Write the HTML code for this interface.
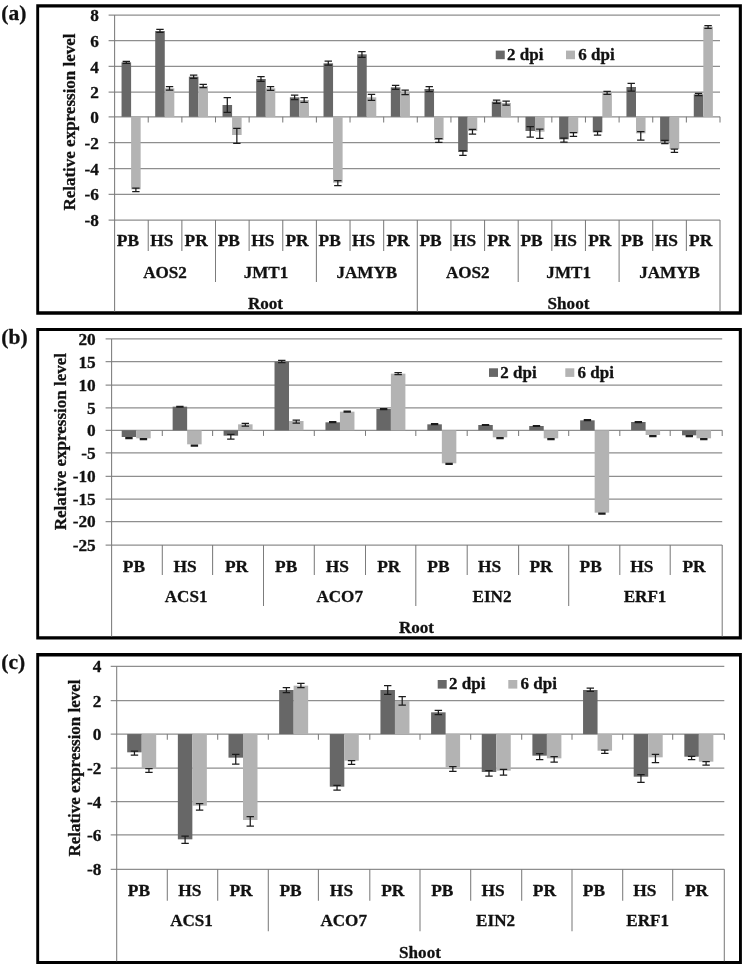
<!DOCTYPE html>
<html lang="en"><head><meta charset="utf-8"><title>Relative expression level</title>
<style>html,body{margin:0;padding:0;background:#fff}svg{display:block;filter:grayscale(1)}text{font-family:"Liberation Serif", "DejaVu Serif", serif;font-weight:700;fill:#111;stroke:#111;stroke-width:.3px;stroke-linejoin:round}</style></head><body>
<svg width="744" height="968" viewBox="0 0 744 968">
<rect width="744" height="968" fill="#fff"/>
<path fill="#000" fill-rule="evenodd" d="M36.25 4.2H741.9V314.75H36.25ZM39.15 7.4V311.25H738.8V7.4Z"/>
<text x="1.3" y="20.3" font-size="21.5">(a)</text>
<g stroke="#8e8e8e" stroke-width="1.25" fill="none">
<line x1="108.6" y1="15" x2="720" y2="15"/>
<line x1="108.6" y1="40.7" x2="720" y2="40.7"/>
<line x1="108.6" y1="66.4" x2="720" y2="66.4"/>
<line x1="108.6" y1="92.2" x2="720" y2="92.2"/>
<line x1="108.6" y1="116.8" x2="720" y2="116.8"/>
<line x1="108.6" y1="142.6" x2="720" y2="142.6"/>
<line x1="108.6" y1="168.5" x2="720" y2="168.5"/>
<line x1="108.6" y1="194.3" x2="720" y2="194.3"/>
<line x1="108.6" y1="220" x2="720" y2="220"/>
</g>
<g stroke="#7c7c7c" stroke-width="1.05" fill="none">
<line x1="114.6" y1="15" x2="114.6" y2="311.5"/>
<line x1="148.23" y1="220" x2="148.23" y2="251"/>
<line x1="148.23" y1="116.8" x2="148.23" y2="122.4"/>
<line x1="181.87" y1="220" x2="181.87" y2="251"/>
<line x1="181.87" y1="116.8" x2="181.87" y2="122.4"/>
<line x1="215.5" y1="220" x2="215.5" y2="282"/>
<line x1="215.5" y1="116.8" x2="215.5" y2="122.4"/>
<line x1="249.13" y1="220" x2="249.13" y2="251"/>
<line x1="249.13" y1="116.8" x2="249.13" y2="122.4"/>
<line x1="282.77" y1="220" x2="282.77" y2="251"/>
<line x1="282.77" y1="116.8" x2="282.77" y2="122.4"/>
<line x1="316.4" y1="220" x2="316.4" y2="282"/>
<line x1="316.4" y1="116.8" x2="316.4" y2="122.4"/>
<line x1="350.03" y1="220" x2="350.03" y2="251"/>
<line x1="350.03" y1="116.8" x2="350.03" y2="122.4"/>
<line x1="383.67" y1="220" x2="383.67" y2="251"/>
<line x1="383.67" y1="116.8" x2="383.67" y2="122.4"/>
<line x1="417.3" y1="220" x2="417.3" y2="311.5"/>
<line x1="417.3" y1="116.8" x2="417.3" y2="122.4"/>
<line x1="450.93" y1="220" x2="450.93" y2="251"/>
<line x1="450.93" y1="116.8" x2="450.93" y2="122.4"/>
<line x1="484.57" y1="220" x2="484.57" y2="251"/>
<line x1="484.57" y1="116.8" x2="484.57" y2="122.4"/>
<line x1="518.2" y1="220" x2="518.2" y2="282"/>
<line x1="518.2" y1="116.8" x2="518.2" y2="122.4"/>
<line x1="551.83" y1="220" x2="551.83" y2="251"/>
<line x1="551.83" y1="116.8" x2="551.83" y2="122.4"/>
<line x1="585.47" y1="220" x2="585.47" y2="251"/>
<line x1="585.47" y1="116.8" x2="585.47" y2="122.4"/>
<line x1="619.1" y1="220" x2="619.1" y2="282"/>
<line x1="619.1" y1="116.8" x2="619.1" y2="122.4"/>
<line x1="652.73" y1="220" x2="652.73" y2="251"/>
<line x1="652.73" y1="116.8" x2="652.73" y2="122.4"/>
<line x1="686.37" y1="220" x2="686.37" y2="251"/>
<line x1="686.37" y1="116.8" x2="686.37" y2="122.4"/>
<line x1="720" y1="220" x2="720" y2="311.5"/>
<line x1="720" y1="116.8" x2="720" y2="122.4"/>
</g>
<g font-size="17.3" text-anchor="end">
<text x="99" y="21.1">8</text>
<text x="99" y="46.8">6</text>
<text x="99" y="72.5">4</text>
<text x="99" y="98.3">2</text>
<text x="99" y="122.9">0</text>
<text x="99" y="148.7">-2</text>
<text x="99" y="174.6">-4</text>
<text x="99" y="200.4">-6</text>
<text x="99" y="226.1">-8</text>
</g>
<text transform="translate(74.5,122) rotate(-90)" text-anchor="middle" font-size="17">Relative expression level</text>
<rect x="121.55" y="62.33" width="9.55" height="54.47" fill="#676767"/>
<rect x="131.1" y="116.8" width="9.55" height="72.53" fill="#b3b3b3"/>
<path d="M126.32 61.33V63.33M122.62 61.33H130.02M122.62 63.33H130.02" stroke="#1c1c1c" stroke-width="1.25" fill="none"/>
<path d="M135.88 188V191.67M132.18 188H139.57M132.18 191.67H139.57" stroke="#1c1c1c" stroke-width="1.25" fill="none"/>
<rect x="155.21" y="31" width="9.55" height="85.8" fill="#676767"/>
<rect x="164.76" y="88.33" width="9.55" height="28.47" fill="#b3b3b3"/>
<path d="M159.98 29.33V32.33M156.28 29.33H163.68M156.28 32.33H163.68" stroke="#1c1c1c" stroke-width="1.25" fill="none"/>
<path d="M169.53 86.67V90M165.84 86.67H173.23M165.84 90H173.23" stroke="#1c1c1c" stroke-width="1.25" fill="none"/>
<rect x="188.87" y="76.67" width="9.55" height="40.13" fill="#676767"/>
<rect x="198.42" y="86" width="9.55" height="30.8" fill="#b3b3b3"/>
<path d="M193.64 75V78.33M189.94 75H197.34M189.94 78.33H197.34" stroke="#1c1c1c" stroke-width="1.25" fill="none"/>
<path d="M203.19 84.33V87.67M199.5 84.33H206.89M199.5 87.67H206.89" stroke="#1c1c1c" stroke-width="1.25" fill="none"/>
<rect x="222.53" y="105" width="9.55" height="11.8" fill="#676767"/>
<rect x="232.08" y="116.8" width="9.55" height="18.2" fill="#b3b3b3"/>
<path d="M227.3 97.67V112.33M223.6 97.67H231M223.6 112.33H231" stroke="#1c1c1c" stroke-width="1.25" fill="none"/>
<path d="M236.85 128.33V143.33M233.16 128.33H240.55M233.16 143.33H240.55" stroke="#1c1c1c" stroke-width="1.25" fill="none"/>
<rect x="256.19" y="79" width="9.55" height="37.8" fill="#676767"/>
<rect x="265.74" y="88.33" width="9.55" height="28.47" fill="#b3b3b3"/>
<path d="M260.97 76.67V81.33M257.27 76.67H264.67M257.27 81.33H264.67" stroke="#1c1c1c" stroke-width="1.25" fill="none"/>
<path d="M270.52 86.67V90.33M266.82 86.67H274.22M266.82 90.33H274.22" stroke="#1c1c1c" stroke-width="1.25" fill="none"/>
<rect x="289.85" y="97.33" width="9.55" height="19.47" fill="#676767"/>
<rect x="299.4" y="100" width="9.55" height="16.8" fill="#b3b3b3"/>
<path d="M294.62 95V99.67M290.93 95H298.32M290.93 99.67H298.32" stroke="#1c1c1c" stroke-width="1.25" fill="none"/>
<path d="M304.18 97.67V102.33M300.48 97.67H307.88M300.48 102.33H307.88" stroke="#1c1c1c" stroke-width="1.25" fill="none"/>
<rect x="323.51" y="63.33" width="9.55" height="53.47" fill="#676767"/>
<rect x="333.06" y="116.8" width="9.55" height="65.87" fill="#b3b3b3"/>
<path d="M328.28 61V65M324.58 61H331.98M324.58 65H331.98" stroke="#1c1c1c" stroke-width="1.25" fill="none"/>
<path d="M337.83 180.67V185.67M334.13 180.67H341.53M334.13 185.67H341.53" stroke="#1c1c1c" stroke-width="1.25" fill="none"/>
<rect x="357.17" y="54.33" width="9.55" height="62.47" fill="#676767"/>
<rect x="366.72" y="97.33" width="9.55" height="19.47" fill="#b3b3b3"/>
<path d="M361.94 51.67V57.33M358.25 51.67H365.64M358.25 57.33H365.64" stroke="#1c1c1c" stroke-width="1.25" fill="none"/>
<path d="M371.5 94.33V100.33M367.8 94.33H375.19M367.8 100.33H375.19" stroke="#1c1c1c" stroke-width="1.25" fill="none"/>
<rect x="390.83" y="87.33" width="9.55" height="29.47" fill="#676767"/>
<rect x="400.38" y="92.33" width="9.55" height="24.47" fill="#b3b3b3"/>
<path d="M395.61 85.33V89.33M391.91 85.33H399.31M391.91 89.33H399.31" stroke="#1c1c1c" stroke-width="1.25" fill="none"/>
<path d="M405.16 90V94.67M401.46 90H408.86M401.46 94.67H408.86" stroke="#1c1c1c" stroke-width="1.25" fill="none"/>
<rect x="424.49" y="89" width="9.55" height="27.8" fill="#676767"/>
<rect x="434.04" y="116.8" width="9.55" height="23.2" fill="#b3b3b3"/>
<path d="M429.26 86.67V91.67M425.56 86.67H432.96M425.56 91.67H432.96" stroke="#1c1c1c" stroke-width="1.25" fill="none"/>
<path d="M438.81 138.67V142.33M435.12 138.67H442.51M435.12 142.33H442.51" stroke="#1c1c1c" stroke-width="1.25" fill="none"/>
<rect x="458.15" y="116.8" width="9.55" height="35.2" fill="#676767"/>
<rect x="467.7" y="116.8" width="9.55" height="14.2" fill="#b3b3b3"/>
<path d="M462.92 150.67V155.33M459.22 150.67H466.62M459.22 155.33H466.62" stroke="#1c1c1c" stroke-width="1.25" fill="none"/>
<path d="M472.47 129.33V134M468.77 129.33H476.17M468.77 134H476.17" stroke="#1c1c1c" stroke-width="1.25" fill="none"/>
<rect x="491.81" y="101.67" width="9.55" height="15.13" fill="#676767"/>
<rect x="501.36" y="103" width="9.55" height="13.8" fill="#b3b3b3"/>
<path d="M496.59 100V103.33M492.89 100H500.29M492.89 103.33H500.29" stroke="#1c1c1c" stroke-width="1.25" fill="none"/>
<path d="M506.14 101V105M502.44 101H509.84M502.44 105H509.84" stroke="#1c1c1c" stroke-width="1.25" fill="none"/>
<rect x="525.47" y="116.8" width="9.55" height="14.2" fill="#676767"/>
<rect x="535.02" y="116.8" width="9.55" height="14.87" fill="#b3b3b3"/>
<path d="M530.25 126.67V137M526.54 126.67H533.95M526.54 137H533.95" stroke="#1c1c1c" stroke-width="1.25" fill="none"/>
<path d="M539.79 129V138.33M536.09 129H543.5M536.09 138.33H543.5" stroke="#1c1c1c" stroke-width="1.25" fill="none"/>
<rect x="559.13" y="116.8" width="9.55" height="22.53" fill="#676767"/>
<rect x="568.68" y="116.8" width="9.55" height="16.53" fill="#b3b3b3"/>
<path d="M563.9 138V142M560.2 138H567.61M560.2 142H567.61" stroke="#1c1c1c" stroke-width="1.25" fill="none"/>
<path d="M573.45 132.67V136.33M569.75 132.67H577.15M569.75 136.33H577.15" stroke="#1c1c1c" stroke-width="1.25" fill="none"/>
<rect x="592.79" y="116.8" width="9.55" height="15.53" fill="#676767"/>
<rect x="602.34" y="92.67" width="9.55" height="24.13" fill="#b3b3b3"/>
<path d="M597.56 131.33V135M593.86 131.33H601.26M593.86 135H601.26" stroke="#1c1c1c" stroke-width="1.25" fill="none"/>
<path d="M607.11 91.33V94.33M603.41 91.33H610.81M603.41 94.33H610.81" stroke="#1c1c1c" stroke-width="1.25" fill="none"/>
<rect x="626.45" y="87" width="9.55" height="29.8" fill="#676767"/>
<rect x="636" y="116.8" width="9.55" height="16.53" fill="#b3b3b3"/>
<path d="M631.23 83.33V91M627.52 83.33H634.93M627.52 91H634.93" stroke="#1c1c1c" stroke-width="1.25" fill="none"/>
<path d="M640.77 131.67V140M637.07 131.67H644.48M637.07 140H644.48" stroke="#1c1c1c" stroke-width="1.25" fill="none"/>
<rect x="660.11" y="116.8" width="9.55" height="24.87" fill="#676767"/>
<rect x="669.66" y="116.8" width="9.55" height="32.2" fill="#b3b3b3"/>
<path d="M664.88 140.33V143.67M661.18 140.33H668.59M661.18 143.67H668.59" stroke="#1c1c1c" stroke-width="1.25" fill="none"/>
<path d="M674.43 149V152.33M670.73 149H678.13M670.73 152.33H678.13" stroke="#1c1c1c" stroke-width="1.25" fill="none"/>
<rect x="693.77" y="94.33" width="9.55" height="22.47" fill="#676767"/>
<rect x="703.32" y="26.67" width="9.55" height="90.13" fill="#b3b3b3"/>
<path d="M698.54 93.33V95.67M694.84 93.33H702.25M694.84 95.67H702.25" stroke="#1c1c1c" stroke-width="1.25" fill="none"/>
<path d="M708.09 25.67V28.33M704.39 25.67H711.79M704.39 28.33H711.79" stroke="#1c1c1c" stroke-width="1.25" fill="none"/>
<g font-size="17.4" text-anchor="middle">
<text x="127.92" y="246.4">PB</text>
<text x="161.85" y="246.4">HS</text>
<text x="196.18" y="246.4">PR</text>
<text x="228.82" y="246.4">PB</text>
<text x="262.75" y="246.4">HS</text>
<text x="297.08" y="246.4">PR</text>
<text x="329.72" y="246.4">PB</text>
<text x="363.65" y="246.4">HS</text>
<text x="397.98" y="246.4">PR</text>
<text x="430.62" y="246.4">PB</text>
<text x="464.55" y="246.4">HS</text>
<text x="498.88" y="246.4">PR</text>
<text x="531.52" y="246.4">PB</text>
<text x="565.45" y="246.4">HS</text>
<text x="599.78" y="246.4">PR</text>
<text x="632.42" y="246.4">PB</text>
<text x="666.35" y="246.4">HS</text>
<text x="700.68" y="246.4">PR</text>
</g>
<g font-size="17.1" text-anchor="middle">
<text x="165.05" y="277.7">AOS2</text>
<text x="265.95" y="277.7">JMT1</text>
<text x="366.85" y="277.7">JAMYB</text>
<text x="467.75" y="277.7">AOS2</text>
<text x="568.65" y="277.7">JMT1</text>
<text x="669.55" y="277.7">JAMYB</text>
<text x="265.5" y="309">Root</text>
<text x="568.5" y="309">Shoot</text>
</g>
<rect x="495.75" y="50.6" width="9" height="8.6" fill="#676767"/>
<rect x="566" y="50.6" width="9" height="8.6" fill="#b3b3b3"/>
<text x="507.05" y="59.8" font-size="17">2 dpi</text>
<text x="578.3" y="59.8" font-size="17">6 dpi</text>
<path fill="#000" fill-rule="evenodd" d="M36.25 327.9H741.9V639.5H36.25ZM39.15 331V636.3H738.8V331Z"/>
<text x="1.3" y="343.6" font-size="21.5">(b)</text>
<g stroke="#8e8e8e" stroke-width="1.25" fill="none">
<line x1="105.6" y1="338.9" x2="722.2" y2="338.9"/>
<line x1="105.6" y1="361.6" x2="722.2" y2="361.6"/>
<line x1="105.6" y1="385.1" x2="722.2" y2="385.1"/>
<line x1="105.6" y1="407.8" x2="722.2" y2="407.8"/>
<line x1="105.6" y1="430.3" x2="722.2" y2="430.3"/>
<line x1="105.6" y1="452.8" x2="722.2" y2="452.8"/>
<line x1="105.6" y1="476.4" x2="722.2" y2="476.4"/>
<line x1="105.6" y1="499.1" x2="722.2" y2="499.1"/>
<line x1="105.6" y1="521.5" x2="722.2" y2="521.5"/>
<line x1="105.6" y1="545.1" x2="722.2" y2="545.1"/>
</g>
<g stroke="#7c7c7c" stroke-width="1.05" fill="none">
<line x1="111.6" y1="338.9" x2="111.6" y2="636.5"/>
<line x1="162.3" y1="545.1" x2="162.3" y2="575"/>
<line x1="162.3" y1="430.3" x2="162.3" y2="435.9"/>
<line x1="212.6" y1="545.1" x2="212.6" y2="575"/>
<line x1="212.6" y1="430.3" x2="212.6" y2="435.9"/>
<line x1="263.5" y1="545.1" x2="263.5" y2="606"/>
<line x1="263.5" y1="430.3" x2="263.5" y2="435.9"/>
<line x1="314.3" y1="545.1" x2="314.3" y2="575"/>
<line x1="314.3" y1="430.3" x2="314.3" y2="435.9"/>
<line x1="365.5" y1="545.1" x2="365.5" y2="575"/>
<line x1="365.5" y1="430.3" x2="365.5" y2="435.9"/>
<line x1="415.8" y1="545.1" x2="415.8" y2="606"/>
<line x1="415.8" y1="430.3" x2="415.8" y2="435.9"/>
<line x1="467.2" y1="545.1" x2="467.2" y2="575"/>
<line x1="467.2" y1="430.3" x2="467.2" y2="435.9"/>
<line x1="518.6" y1="545.1" x2="518.6" y2="575"/>
<line x1="518.6" y1="430.3" x2="518.6" y2="435.9"/>
<line x1="568.7" y1="545.1" x2="568.7" y2="606"/>
<line x1="568.7" y1="430.3" x2="568.7" y2="435.9"/>
<line x1="619.8" y1="545.1" x2="619.8" y2="575"/>
<line x1="619.8" y1="430.3" x2="619.8" y2="435.9"/>
<line x1="670.2" y1="545.1" x2="670.2" y2="575"/>
<line x1="670.2" y1="430.3" x2="670.2" y2="435.9"/>
<line x1="722.2" y1="545.1" x2="722.2" y2="636.5"/>
<line x1="722.2" y1="430.3" x2="722.2" y2="435.9"/>
</g>
<g font-size="17.3" text-anchor="end">
<text x="95.7" y="344.8">20</text>
<text x="95.7" y="367.5">15</text>
<text x="95.7" y="391">10</text>
<text x="95.7" y="413.7">5</text>
<text x="95.7" y="436.2">0</text>
<text x="95.7" y="458.7">-5</text>
<text x="95.7" y="482.3">-10</text>
<text x="95.7" y="505">-15</text>
<text x="95.7" y="527.4">-20</text>
<text x="95.7" y="551">-25</text>
</g>
<text transform="translate(66,441.6) rotate(-90)" text-anchor="middle" font-size="17">Relative expression level</text>
<rect x="121.7" y="430.3" width="14.5" height="6.7" fill="#676767"/>
<rect x="136.2" y="430.3" width="14.5" height="8.03" fill="#b3b3b3"/>
<path d="M128.95 437.67V438.67M125.25 437.67H132.65M125.25 438.67H132.65" stroke="#1c1c1c" stroke-width="1.25" fill="none"/>
<path d="M143.45 438.67V439.67M139.75 438.67H147.15M139.75 439.67H147.15" stroke="#1c1c1c" stroke-width="1.25" fill="none"/>
<rect x="172.64" y="406.67" width="14.5" height="23.63" fill="#676767"/>
<rect x="187.14" y="430.3" width="14.5" height="14.03" fill="#b3b3b3"/>
<path d="M179.89 406.33V407M176.19 406.33H183.59M176.19 407H183.59" stroke="#1c1c1c" stroke-width="1.25" fill="none"/>
<path d="M194.39 445V446M190.69 445H198.09M190.69 446H198.09" stroke="#1c1c1c" stroke-width="1.25" fill="none"/>
<rect x="223.58" y="430.3" width="14.5" height="5.37" fill="#676767"/>
<rect x="238.08" y="424.33" width="14.5" height="5.97" fill="#b3b3b3"/>
<path d="M230.83 434.33V439M227.13 434.33H234.53M227.13 439H234.53" stroke="#1c1c1c" stroke-width="1.25" fill="none"/>
<path d="M245.33 423.33V426M241.63 423.33H249.03M241.63 426H249.03" stroke="#1c1c1c" stroke-width="1.25" fill="none"/>
<rect x="274.52" y="361.67" width="14.5" height="68.63" fill="#676767"/>
<rect x="289.02" y="421" width="14.5" height="9.3" fill="#b3b3b3"/>
<path d="M281.77 360.33V362.67M278.07 360.33H285.47M278.07 362.67H285.47" stroke="#1c1c1c" stroke-width="1.25" fill="none"/>
<path d="M296.27 420V423M292.57 420H299.97M292.57 423H299.97" stroke="#1c1c1c" stroke-width="1.25" fill="none"/>
<rect x="325.46" y="422.33" width="14.5" height="7.97" fill="#676767"/>
<rect x="339.96" y="411.67" width="14.5" height="18.63" fill="#b3b3b3"/>
<path d="M332.71 421.67V422.67M329.01 421.67H336.41M329.01 422.67H336.41" stroke="#1c1c1c" stroke-width="1.25" fill="none"/>
<path d="M347.21 411V412M343.51 411H350.91M343.51 412H350.91" stroke="#1c1c1c" stroke-width="1.25" fill="none"/>
<rect x="376.4" y="409" width="14.5" height="21.3" fill="#676767"/>
<rect x="390.9" y="373.67" width="14.5" height="56.63" fill="#b3b3b3"/>
<path d="M383.65 408.67V409.67M379.95 408.67H387.35M379.95 409.67H387.35" stroke="#1c1c1c" stroke-width="1.25" fill="none"/>
<path d="M398.15 372.67V374.67M394.45 372.67H401.85M394.45 374.67H401.85" stroke="#1c1c1c" stroke-width="1.25" fill="none"/>
<rect x="427.34" y="424.33" width="14.5" height="5.97" fill="#676767"/>
<rect x="441.84" y="430.3" width="14.5" height="33.03" fill="#b3b3b3"/>
<path d="M434.59 423.67V424.67M430.89 423.67H438.29M430.89 424.67H438.29" stroke="#1c1c1c" stroke-width="1.25" fill="none"/>
<path d="M449.09 463.33V464.33M445.39 463.33H452.79M445.39 464.33H452.79" stroke="#1c1c1c" stroke-width="1.25" fill="none"/>
<rect x="478.28" y="425" width="14.5" height="5.3" fill="#676767"/>
<rect x="492.78" y="430.3" width="14.5" height="7.03" fill="#b3b3b3"/>
<path d="M485.53 424.67V425.33M481.83 424.67H489.23M481.83 425.33H489.23" stroke="#1c1c1c" stroke-width="1.25" fill="none"/>
<path d="M500.03 437.67V438.67M496.33 437.67H503.73M496.33 438.67H503.73" stroke="#1c1c1c" stroke-width="1.25" fill="none"/>
<rect x="529.22" y="426" width="14.5" height="4.3" fill="#676767"/>
<rect x="543.72" y="430.3" width="14.5" height="8.03" fill="#b3b3b3"/>
<path d="M536.47 425.67V426.33M532.77 425.67H540.17M532.77 426.33H540.17" stroke="#1c1c1c" stroke-width="1.25" fill="none"/>
<path d="M550.97 438.67V439.67M547.27 438.67H554.67M547.27 439.67H554.67" stroke="#1c1c1c" stroke-width="1.25" fill="none"/>
<rect x="580.16" y="420.33" width="14.5" height="9.97" fill="#676767"/>
<rect x="594.66" y="430.3" width="14.5" height="82.37" fill="#b3b3b3"/>
<path d="M587.41 419.67V420.67M583.71 419.67H591.11M583.71 420.67H591.11" stroke="#1c1c1c" stroke-width="1.25" fill="none"/>
<path d="M601.91 513V514M598.21 513H605.61M598.21 514H605.61" stroke="#1c1c1c" stroke-width="1.25" fill="none"/>
<rect x="631.1" y="422" width="14.5" height="8.3" fill="#676767"/>
<rect x="645.6" y="430.3" width="14.5" height="4.7" fill="#b3b3b3"/>
<path d="M638.35 421.67V422.67M634.65 421.67H642.05M634.65 422.67H642.05" stroke="#1c1c1c" stroke-width="1.25" fill="none"/>
<path d="M652.85 435.67V436.67M649.15 435.67H656.55M649.15 436.67H656.55" stroke="#1c1c1c" stroke-width="1.25" fill="none"/>
<rect x="682.04" y="430.3" width="14.5" height="5.03" fill="#676767"/>
<rect x="696.54" y="430.3" width="14.5" height="8.03" fill="#b3b3b3"/>
<path d="M689.29 435.67V436.67M685.59 435.67H692.99M685.59 436.67H692.99" stroke="#1c1c1c" stroke-width="1.25" fill="none"/>
<path d="M703.79 438.67V439.67M700.09 438.67H707.49M700.09 439.67H707.49" stroke="#1c1c1c" stroke-width="1.25" fill="none"/>
<g font-size="17.4" text-anchor="middle">
<text x="133.97" y="571.9">PB</text>
<text x="185.03" y="571.9">HS</text>
<text x="236.48" y="571.9">PR</text>
<text x="286.23" y="571.9">PB</text>
<text x="337.28" y="571.9">HS</text>
<text x="388.73" y="571.9">PR</text>
<text x="438.48" y="571.9">PB</text>
<text x="489.53" y="571.9">HS</text>
<text x="540.98" y="571.9">PR</text>
<text x="590.73" y="571.9">PB</text>
<text x="641.77" y="571.9">HS</text>
<text x="694.03" y="571.9">PR</text>
</g>
<g font-size="17.1" text-anchor="middle">
<text x="186.13" y="601.9">ACS1</text>
<text x="339.68" y="601.9">ACO7</text>
<text x="491.98" y="601.9">EIN2</text>
<text x="645.03" y="601.9">ERF1</text>
<text x="416.5" y="633.3">Root</text>
</g>
<rect x="489" y="368.3" width="9" height="8.6" fill="#676767"/>
<rect x="565.3" y="368.3" width="9" height="8.6" fill="#b3b3b3"/>
<text x="500.3" y="378.3" font-size="17">2 dpi</text>
<text x="577.6" y="378.3" font-size="17">6 dpi</text>
<path fill="#000" fill-rule="evenodd" d="M36.25 653H741.9V963.9H36.25ZM39.15 656.4V961.1H739V656.4Z"/>
<text x="1.3" y="668.6" font-size="21.5">(c)</text>
<g stroke="#8e8e8e" stroke-width="1.25" fill="none">
<line x1="110.7" y1="666.3" x2="724.3" y2="666.3"/>
<line x1="110.7" y1="700.6" x2="724.3" y2="700.6"/>
<line x1="110.7" y1="734.1" x2="724.3" y2="734.1"/>
<line x1="110.7" y1="768.2" x2="724.3" y2="768.2"/>
<line x1="110.7" y1="801.6" x2="724.3" y2="801.6"/>
<line x1="110.7" y1="834.9" x2="724.3" y2="834.9"/>
<line x1="110.7" y1="869.3" x2="724.3" y2="869.3"/>
</g>
<g stroke="#7c7c7c" stroke-width="1.05" fill="none">
<line x1="116.7" y1="666.3" x2="116.7" y2="961.3"/>
<line x1="167.3" y1="869.3" x2="167.3" y2="900.7"/>
<line x1="167.3" y1="734.1" x2="167.3" y2="739.7"/>
<line x1="217.7" y1="869.3" x2="217.7" y2="900.7"/>
<line x1="217.7" y1="734.1" x2="217.7" y2="739.7"/>
<line x1="268.3" y1="869.3" x2="268.3" y2="931.3"/>
<line x1="268.3" y1="734.1" x2="268.3" y2="739.7"/>
<line x1="318.4" y1="869.3" x2="318.4" y2="900.7"/>
<line x1="318.4" y1="734.1" x2="318.4" y2="739.7"/>
<line x1="369.8" y1="869.3" x2="369.8" y2="900.7"/>
<line x1="369.8" y1="734.1" x2="369.8" y2="739.7"/>
<line x1="420" y1="869.3" x2="420" y2="931.3"/>
<line x1="420" y1="734.1" x2="420" y2="739.7"/>
<line x1="470.7" y1="869.3" x2="470.7" y2="900.7"/>
<line x1="470.7" y1="734.1" x2="470.7" y2="739.7"/>
<line x1="521.7" y1="869.3" x2="521.7" y2="900.7"/>
<line x1="521.7" y1="734.1" x2="521.7" y2="739.7"/>
<line x1="572" y1="869.3" x2="572" y2="931.3"/>
<line x1="572" y1="734.1" x2="572" y2="739.7"/>
<line x1="622.7" y1="869.3" x2="622.7" y2="900.7"/>
<line x1="622.7" y1="734.1" x2="622.7" y2="739.7"/>
<line x1="672.7" y1="869.3" x2="672.7" y2="900.7"/>
<line x1="672.7" y1="734.1" x2="672.7" y2="739.7"/>
<line x1="724.3" y1="869.3" x2="724.3" y2="961.3"/>
<line x1="724.3" y1="734.1" x2="724.3" y2="739.7"/>
</g>
<g font-size="17.3" text-anchor="end">
<text x="101.5" y="672.4">4</text>
<text x="101.5" y="706.7">2</text>
<text x="101.5" y="740.2">0</text>
<text x="101.5" y="774.3">-2</text>
<text x="101.5" y="807.7">-4</text>
<text x="101.5" y="841">-6</text>
<text x="101.5" y="875.4">-8</text>
</g>
<text transform="translate(79.7,768) rotate(-90)" text-anchor="middle" font-size="17">Relative expression level</text>
<rect x="127.2" y="734.1" width="14.5" height="18.23" fill="#676767"/>
<rect x="141.7" y="734.1" width="14.5" height="34.9" fill="#b3b3b3"/>
<path d="M134.45 751V755M130.75 751H138.15M130.75 755H138.15" stroke="#1c1c1c" stroke-width="1.25" fill="none"/>
<path d="M148.95 768.67V772.33M145.25 768.67H152.65M145.25 772.33H152.65" stroke="#1c1c1c" stroke-width="1.25" fill="none"/>
<rect x="177.85" y="734.1" width="14.5" height="105.23" fill="#676767"/>
<rect x="192.35" y="734.1" width="14.5" height="71.57" fill="#b3b3b3"/>
<path d="M185.1 836V843.33M181.4 836H188.8M181.4 843.33H188.8" stroke="#1c1c1c" stroke-width="1.25" fill="none"/>
<path d="M199.6 803.67V810M195.9 803.67H203.3M195.9 810H203.3" stroke="#1c1c1c" stroke-width="1.25" fill="none"/>
<rect x="228.5" y="734.1" width="14.5" height="23.57" fill="#676767"/>
<rect x="243" y="734.1" width="14.5" height="85.9" fill="#b3b3b3"/>
<path d="M235.75 754.33V764M232.05 754.33H239.45M232.05 764H239.45" stroke="#1c1c1c" stroke-width="1.25" fill="none"/>
<path d="M250.25 816.67V826M246.55 816.67H253.95M246.55 826H253.95" stroke="#1c1c1c" stroke-width="1.25" fill="none"/>
<rect x="279.15" y="690" width="14.5" height="44.1" fill="#676767"/>
<rect x="293.65" y="685.67" width="14.5" height="48.43" fill="#b3b3b3"/>
<path d="M286.4 687.67V692.67M282.7 687.67H290.1M282.7 692.67H290.1" stroke="#1c1c1c" stroke-width="1.25" fill="none"/>
<path d="M300.9 683.33V687.67M297.2 683.33H304.6M297.2 687.67H304.6" stroke="#1c1c1c" stroke-width="1.25" fill="none"/>
<rect x="329.8" y="734.1" width="14.5" height="52.57" fill="#676767"/>
<rect x="344.3" y="734.1" width="14.5" height="26.57" fill="#b3b3b3"/>
<path d="M337.05 785.33V790M333.35 785.33H340.75M333.35 790H340.75" stroke="#1c1c1c" stroke-width="1.25" fill="none"/>
<path d="M351.55 760.67V764.33M347.85 760.67H355.25M347.85 764.33H355.25" stroke="#1c1c1c" stroke-width="1.25" fill="none"/>
<rect x="380.45" y="690" width="14.5" height="44.1" fill="#676767"/>
<rect x="394.95" y="701" width="14.5" height="33.1" fill="#b3b3b3"/>
<path d="M387.7 685.67V694.33M384 685.67H391.4M384 694.33H391.4" stroke="#1c1c1c" stroke-width="1.25" fill="none"/>
<path d="M402.2 696.67V705M398.5 696.67H405.9M398.5 705H405.9" stroke="#1c1c1c" stroke-width="1.25" fill="none"/>
<rect x="431.1" y="712.33" width="14.5" height="21.77" fill="#676767"/>
<rect x="445.6" y="734.1" width="14.5" height="33.23" fill="#b3b3b3"/>
<path d="M438.35 710.33V714.67M434.65 710.33H442.05M434.65 714.67H442.05" stroke="#1c1c1c" stroke-width="1.25" fill="none"/>
<path d="M452.85 766.67V771.33M449.15 766.67H456.55M449.15 771.33H456.55" stroke="#1c1c1c" stroke-width="1.25" fill="none"/>
<rect x="481.75" y="734.1" width="14.5" height="37.9" fill="#676767"/>
<rect x="496.25" y="734.1" width="14.5" height="36.57" fill="#b3b3b3"/>
<path d="M489 770.67V776M485.3 770.67H492.7M485.3 776H492.7" stroke="#1c1c1c" stroke-width="1.25" fill="none"/>
<path d="M503.5 769.33V775M499.8 769.33H507.2M499.8 775H507.2" stroke="#1c1c1c" stroke-width="1.25" fill="none"/>
<rect x="532.4" y="734.1" width="14.5" height="21.57" fill="#676767"/>
<rect x="546.9" y="734.1" width="14.5" height="24.23" fill="#b3b3b3"/>
<path d="M539.65 753.67V759.67M535.95 753.67H543.35M535.95 759.67H543.35" stroke="#1c1c1c" stroke-width="1.25" fill="none"/>
<path d="M554.15 756.67V762M550.45 756.67H557.85M550.45 762H557.85" stroke="#1c1c1c" stroke-width="1.25" fill="none"/>
<rect x="583.05" y="690" width="14.5" height="44.1" fill="#676767"/>
<rect x="597.55" y="734.1" width="14.5" height="16.57" fill="#b3b3b3"/>
<path d="M590.3 688V691.33M586.6 688H594M586.6 691.33H594" stroke="#1c1c1c" stroke-width="1.25" fill="none"/>
<path d="M604.8 750V753.33M601.1 750H608.5M601.1 753.33H608.5" stroke="#1c1c1c" stroke-width="1.25" fill="none"/>
<rect x="633.7" y="734.1" width="14.5" height="42.57" fill="#676767"/>
<rect x="648.2" y="734.1" width="14.5" height="23.23" fill="#b3b3b3"/>
<path d="M640.95 774.67V782.33M637.25 774.67H644.65M637.25 782.33H644.65" stroke="#1c1c1c" stroke-width="1.25" fill="none"/>
<path d="M655.45 754.33V762.67M651.75 754.33H659.15M651.75 762.67H659.15" stroke="#1c1c1c" stroke-width="1.25" fill="none"/>
<rect x="684.35" y="734.1" width="14.5" height="22.57" fill="#676767"/>
<rect x="698.85" y="734.1" width="14.5" height="27.57" fill="#b3b3b3"/>
<path d="M691.6 756.33V759.67M687.9 756.33H695.3M687.9 759.67H695.3" stroke="#1c1c1c" stroke-width="1.25" fill="none"/>
<path d="M706.1 761.67V765M702.4 761.67H709.8M702.4 765H709.8" stroke="#1c1c1c" stroke-width="1.25" fill="none"/>
<g font-size="17.4" text-anchor="middle">
<text x="138.97" y="895.7">PB</text>
<text x="189.83" y="895.7">HS</text>
<text x="241.07" y="895.7">PR</text>
<text x="290.62" y="895.7">PB</text>
<text x="341.47" y="895.7">HS</text>
<text x="392.72" y="895.7">PR</text>
<text x="442.27" y="895.7">PB</text>
<text x="493.12" y="895.7">HS</text>
<text x="544.38" y="895.7">PR</text>
<text x="593.92" y="895.7">PB</text>
<text x="644.77" y="895.7">HS</text>
<text x="696.52" y="895.7">PR</text>
</g>
<g font-size="17.1" text-anchor="middle">
<text x="191.52" y="926.4">ACS1</text>
<text x="343.67" y="926.4">ACO7</text>
<text x="495.57" y="926.4">EIN2</text>
<text x="647.72" y="926.4">ERF1</text>
<text x="420" y="957.8">Shoot</text>
</g>
<rect x="437.7" y="680" width="9" height="8.6" fill="#676767"/>
<rect x="508.3" y="680" width="9" height="8.6" fill="#b3b3b3"/>
<text x="449" y="689.3" font-size="17">2 dpi</text>
<text x="520.6" y="689.3" font-size="17">6 dpi</text>
</svg></body></html>
